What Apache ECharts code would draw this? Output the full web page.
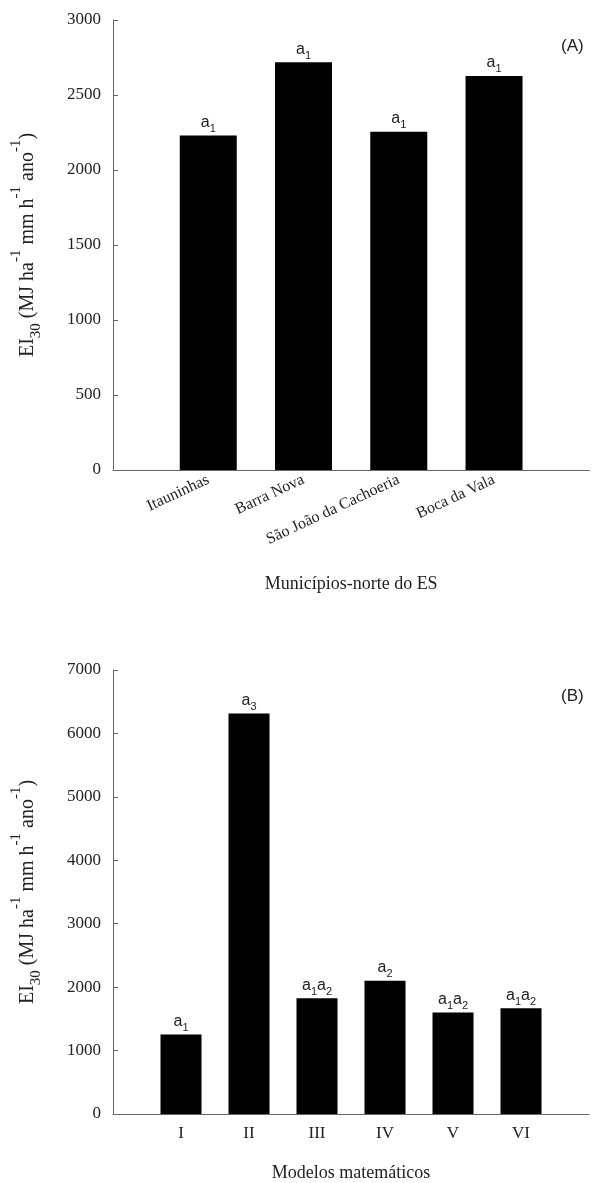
<!DOCTYPE html>
<html>
<head>
<meta charset="utf-8">
<script src="https://cdn.jsdelivr.net/npm/echarts@6/dist/echarts.min.js"></script>
<style>
  html, body { margin: 0; padding: 0; background: #fff; }
  #chart { width: 592px; height: 1183px; }
</style>
</head>
<body>
<div id="chart"></div>
<script>
// (A) municípios
const municipios = ["Itauninhas", "Barra Nova", "São João da Cachoeria", "Boca da Vala"];
const valoresA = [2230, 2718, 2255, 2627];
const letrasA = ["a1", "a1", "a1", "a1"];
const ticksA = { min: 0, max: 3000, interval: 500 };

// (B) modelos
const modelos = ["I", "II", "III", "IV", "V", "VI"];
const valoresB = [1255, 6314, 1824, 2100, 1602, 1669];
const letrasB = ["a1", "a3", "a1a2", "a2", "a1a2", "a1a2"];
const ticksB = { min: 0, max: 7000, interval: 1000 };

const serif = "Liberation Serif";
const sans = "Liberation Sans";
const axisGray = "#666";
const textColor = "#222";

// empty slot at both ends so bars sit at 1..n on an axis running 0..n+1
const pad = (arr, fill) => [fill, ...arr, fill];
const letterRich = (s) => s.replace(/a(\d)/g, "{a|a}{s|$1}");

const yName =
  "{b|EI}{sub|30}{b| (MJ ha}{sup|-1}{b| mm h}{sup|-1}{b| ano}{sup|-1}{b|)}";
const yNameRich = {
  b: { fontFamily: serif, fontSize: 20, color: textColor, lineHeight: 38, verticalAlign: "middle" },
  sub: { fontFamily: serif, fontSize: 15, color: textColor, lineHeight: 38, verticalAlign: "bottom", padding: [0, 0, 3, 0] },
  sup: { fontFamily: serif, fontSize: 15, color: textColor, lineHeight: 38, verticalAlign: "top" },
};

const barLabelRich = {
  a: { fontFamily: sans, fontSize: 16, color: textColor, lineHeight: 20, verticalAlign: "middle" },
  s: { fontFamily: sans, fontSize: 11, color: textColor, lineHeight: 24, verticalAlign: "bottom" },
};

const xAxisBase = {
  type: "category",
  boundaryGap: false,
  axisLine: { lineStyle: { color: axisGray, width: 1 } },
  axisTick: { show: false },
  splitLine: { show: false },
  nameLocation: "middle",
  nameTextStyle: { fontFamily: serif, fontSize: 18, color: textColor },
};

const yAxisBase = {
  type: "value",
  axisLine: { show: true, lineStyle: { color: axisGray, width: 1 } },
  axisTick: { show: true, inside: true, length: 5, lineStyle: { color: axisGray } },
  splitLine: { show: false },
  axisLabel: { fontFamily: serif, fontSize: 17, color: textColor, margin: 12, formatter: (v) => String(v) },
  name: yName,
  nameLocation: "middle",
  nameRotate: 90,
  nameGap: 66,
  nameTextStyle: { rich: yNameRich },
};

const chart = echarts.init(document.getElementById("chart"), null, { renderer: "canvas" });

chart.setOption({
  animation: false,
  backgroundColor: "#fff",
  title: [
    { text: "(A)", left: 556, top: 33, textStyle: { fontFamily: sans, fontSize: 17, fontWeight: "normal", color: textColor } },
    { text: "(B)", left: 556, top: 683, textStyle: { fontFamily: sans, fontSize: 17, fontWeight: "normal", color: textColor } },
  ],
  grid: [
    { left: 113, right: 0, top: 20, height: 450 },
    { left: 113, right: 0, top: 670, height: 450 },
  ],
  xAxis: [
    {
      ...xAxisBase,
      gridIndex: 0,
      data: pad(municipios, ""),
      name: "Municípios-norte do ES",
      nameGap: 105,
      axisLabel: { fontFamily: serif, fontSize: 16, color: textColor, rotate: 25, margin: 9, interval: 0 },
    },
    {
      ...xAxisBase,
      gridIndex: 1,
      data: pad(modelos, ""),
      name: "Modelos matemáticos",
      nameGap: 50,
      axisLabel: { fontFamily: serif, fontSize: 17, color: textColor, margin: 11, interval: 0 },
    },
  ],
  yAxis: [
    { ...yAxisBase, gridIndex: 0, ...ticksA },
    { ...yAxisBase, gridIndex: 1, ...ticksB },
  ],
  series: [
    {
      type: "bar",
      xAxisIndex: 0,
      yAxisIndex: 0,
      barWidth: 57,
      itemStyle: { color: "#000" },
      data: pad(valoresA, null),
      label: {
        show: true,
        position: "top",
        distance: 1,
        formatter: (p) => letterRich(letrasA[p.dataIndex - 1] || ""),
        rich: barLabelRich,
      },
    },
    {
      type: "bar",
      xAxisIndex: 1,
      yAxisIndex: 1,
      barWidth: 41,
      itemStyle: { color: "#000" },
      data: pad(valoresB, null),
      label: {
        show: true,
        position: "top",
        distance: 1,
        formatter: (p) => letterRich(letrasB[p.dataIndex - 1] || ""),
        rich: barLabelRich,
      },
    },
  ],
});
</script>
</body>
</html>
